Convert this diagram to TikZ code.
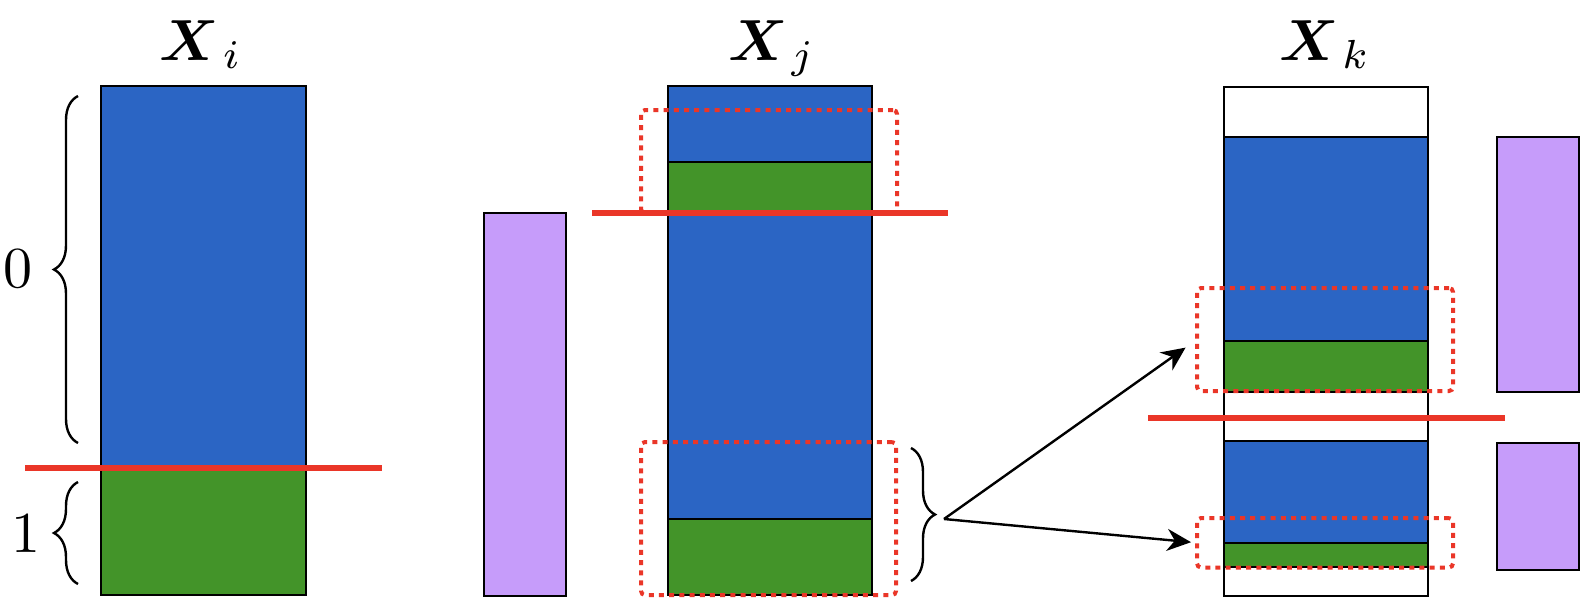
\documentclass[tikz,border=0pt]{standalone}
\usepackage{amsmath,bm}
\usetikzlibrary{decorations.pathreplacing,arrows.meta}
\definecolor{cblue}{RGB}{43,101,196}
\definecolor{cgreen}{RGB}{67,148,41}
\definecolor{cpurple}{RGB}{198,156,250}
\definecolor{cred}{RGB}{234,54,40}
\newcommand{\bigtxt}[1]{\scalebox{2.9}{#1}}
\begin{document}
\begin{tikzpicture}[x=0.5pt,y=-0.5pt,
  seg/.style={draw=black,line width=1.2pt},
  cut/.style={draw=cred,line width=3pt},
  sel/.style={draw=cred,line width=2pt,dash pattern=on 2.5pt off 2.6pt,rounded corners=2pt,
              inner sep=0pt,outer sep=0pt,anchor=north west},
  brc/.style={decorate,decoration={brace,amplitude=12pt},line width=1.2pt},
  lab/.style={inner sep=0pt},
  arr/.style={-{Stealth[length=12pt,width=11pt]},line width=1.2pt}]
\useasboundingbox (0,0) rectangle (1592,606);

% X_i column
\draw[seg,fill=cblue]  (101,86) rectangle (306,468);
\draw[seg,fill=cgreen] (101,468) rectangle (306,595);

% middle purple
\draw[seg,fill=cpurple] (484,213) rectangle (566,596);

% X_j column
\draw[seg,fill=cblue]  (668,86) rectangle (872,162);
\draw[seg,fill=cgreen] (668,162) rectangle (872,213);
\draw[seg,fill=cblue]  (668,213) rectangle (872,519);
\draw[seg,fill=cgreen] (668,519) rectangle (872,595);

% X_k column
\draw[seg,fill=white]  (1224,87) rectangle (1428,137);
\draw[seg,fill=cblue]  (1224,137) rectangle (1428,341);
\draw[seg,fill=cgreen] (1224,341) rectangle (1428,392);
\draw[seg,fill=white]  (1224,392) rectangle (1428,441);
\draw[seg,fill=cblue]  (1224,441) rectangle (1428,543);
\draw[seg,fill=cgreen] (1224,543) rectangle (1428,567);
\draw[seg,fill=white]  (1224,567) rectangle (1428,596);

% right purple
\draw[seg,fill=cpurple] (1497,137) rectangle (1579,392);
\draw[seg,fill=cpurple] (1497,443) rectangle (1579,570);

% dotted selection boxes
\node[sel,minimum width=128pt,minimum height=51.5pt] (jtop) at (641,110) {};
\node[sel,minimum width=127.5pt,minimum height=76.5pt] (jbot) at (641,442) {};
\node[sel,minimum width=128pt,minimum height=51.5pt] (kup) at (1197,288) {};
\node[sel,minimum width=128pt,minimum height=24.75pt] (klo) at (1197,518) {};

% red cut lines
\draw[cut] (25,468) -- (382,468);
\draw[cut] (592,213) -- (948,213);
\draw[cut] (1148,418) -- (1505,418);

% braces
\draw[brc] (78,443) -- (78,96);
\draw[brc] (78,584) -- (78,482);
\draw[brc] (911,448) -- (911,581);

% labels
\node[lab] (l0) at (18,269) {\bigtxt{0}};
\node[lab] (l1) at (26,533) {\bigtxt{1}};
\node[lab,anchor=base] (xi) at (201,60) {\bigtxt{$\bm{X}_{\,i}$}};
\node[lab,anchor=base] (xj) at (772,60) {\bigtxt{$\bm{X}_{\,j}$}};
\node[lab,anchor=base] (xk) at (1325,60) {\bigtxt{$\bm{X}_{\,k}$}};

% arrows
\coordinate (src) at (944,519);
\draw[arr,shorten >=7pt] (src) -- (kup.west);
\draw[arr,shorten >=3pt] (src) -- (klo.west);
\end{tikzpicture}
\end{document}
